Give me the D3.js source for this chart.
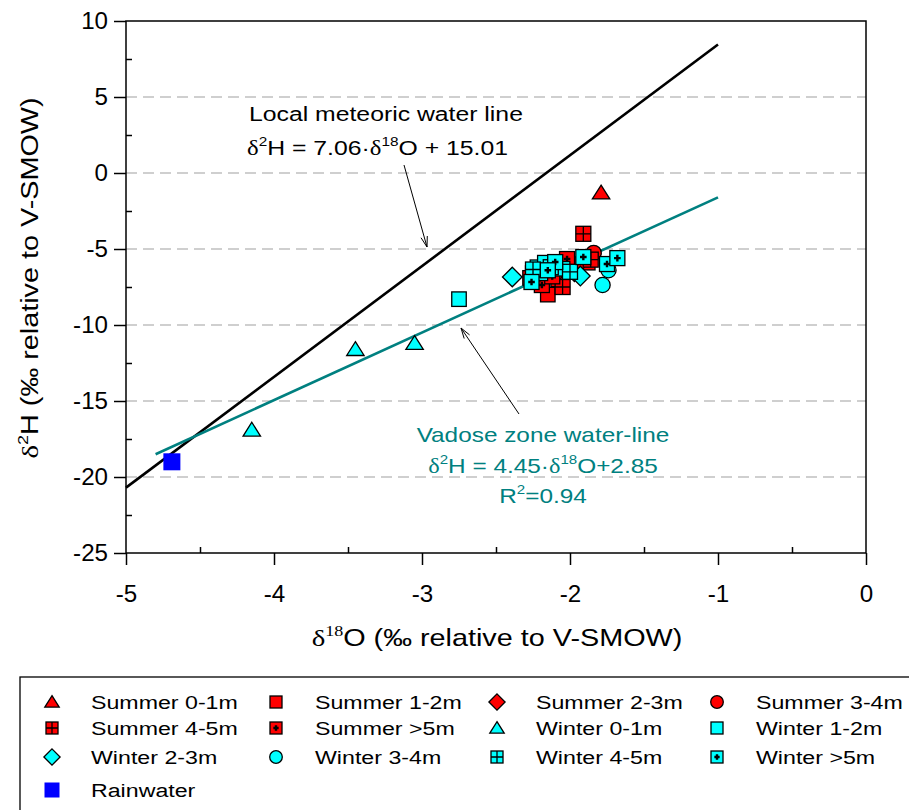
<!DOCTYPE html>
<html>
<head>
<meta charset="utf-8">
<script src="https://cdn.jsdelivr.net/npm/d3@7"></script>
<style>
  body { margin: 0; background: #fff; }
  svg { font-family: "Liberation Sans", Arial, sans-serif; }
</style>
</head>
<body>
<svg id="chart" width="909" height="810"></svg>
<script>
// ---- data ----
const xTicks = [-5, -4, -3, -2, -1, 0];
const xMinor = [-4.5, -3.5, -2.5, -1.5, -0.5];
const yTicks = [-25, -20, -15, -10, -5, 0, 5, 10];
const yMinor = [-22.5, -17.5, -12.5, -7.5, -2.5, 2.5, 7.5];
const gridValues = [-20, -15, -10, -5, 0, 5];

const summer01 = [[-1.79, -1.3]];
const summer12 = [[-2.15, -8.0], [-2.27, -6.9], [-1.99, -6.25], [-1.88, -5.9], [-2.08, -7.0]];
const summer23 = [[-2.05, -6.8], [-1.97, -6.5]];
const summer34 = [[-1.84, -5.26], [-2.1, -6.6], [-1.95, -6.0]];
const summer45 = [[-1.91, -4.0], [-2.05, -7.5], [-2.2, -6.5], [-1.86, -5.7]];
const summer5p = [[-2.19, -7.37], [-2.02, -5.66], [-2.12, -6.8], [-2.25, -6.6]];
const winter01 = [[-3.45, -11.6], [-3.05, -11.2], [-4.15, -16.9]];
const winter12 = [[-2.75, -8.3], [-2.22, -6.2], [-2.17, -5.9], [-2.2, -6.6], [-2.05, -6.3]];
const winter23 = [[-2.39, -6.84], [-1.93, -6.78]];
const winter34 = [[-1.78, -7.37], [-1.74, -6.4]];
const winter45 = [[-2.13, -6.2], [-2.0, -6.5], [-2.25, -6.35]];
const winter5p = [[-2.26, -7.17], [-2.1, -5.86], [-1.91, -5.53], [-1.75, -5.99], [-1.68, -5.6], [-2.15, -6.4]];
const rainwater = [[-4.69, -19.0]];

const lmwl = [[-5, -20.7], [-1, 8.45]];
const vadose = [[-4.8, -18.5], [-1, -1.6]];

// series: name, data, shape, fill
const series = [
  {name: "Summer 0-1m", data: summer01, shape: "tri",     fill: "#ff0000"},
  {name: "Summer 1-2m", data: summer12, shape: "square",  fill: "#ff0000"},
  {name: "Summer 2-3m", data: summer23, shape: "diamond", fill: "#ff0000"},
  {name: "Summer 3-4m", data: summer34, shape: "circle",  fill: "#ff0000"},
  {name: "Summer 4-5m", data: summer45, shape: "grid",    fill: "#ff0000"},
  {name: "Summer >5m",  data: summer5p, shape: "plus",    fill: "#ff0000"},
  {name: "Winter 0-1m", data: winter01, shape: "tri",     fill: "#00ffff"},
  {name: "Winter 1-2m", data: winter12, shape: "square",  fill: "#00ffff"},
  {name: "Winter 2-3m", data: winter23, shape: "diamond", fill: "#00ffff"},
  {name: "Winter 3-4m", data: winter34, shape: "circle",  fill: "#00ffff"},
  {name: "Winter 4-5m", data: winter45, shape: "grid",    fill: "#00ffff"},
  {name: "Winter >5m",  data: winter5p, shape: "plus",    fill: "#00ffff"},
  {name: "Rainwater",   data: rainwater, shape: "rain",   fill: "#0000ff"}
];

const svg = d3.select("#chart");
const x = d3.scaleLinear().domain([-5, 0]).range([126, 866]);
const y = d3.scaleLinear().domain([-25, 10]).range([553, 21]);

// the original text is a bit wider than Arial, stretch it around its anchor
function stretch(sel, sx) {
  sel.each(function () {
    const t = d3.select(this);
    const tx = +t.attr("x") || 0, ty = +t.attr("y") || 0;
    t.attr("transform", `translate(${tx},${ty}) scale(${sx},1) translate(${-tx},${-ty})`);
  });
}

// dashed grid
svg.append("g").selectAll("line").data(gridValues).join("line")
  .attr("x1", x(-5)).attr("x2", x(0))
  .attr("y1", d => y(d)).attr("y2", d => y(d))
  .attr("stroke", "#c0c0c0").attr("stroke-width", 1.3)
  .attr("stroke-dasharray", "11,6");

// frame
svg.append("rect").attr("x", x(-5)).attr("y", y(10))
  .attr("width", x(0) - x(-5)).attr("height", y(-25) - y(10))
  .attr("fill", "none").attr("stroke", "#000").attr("stroke-width", 1.5);

// axes
function styleAxis(g) {
  g.select(".domain").remove();
  g.selectAll("line").attr("stroke", "#000").attr("stroke-width", 1.5);
  g.selectAll("text").attr("font-size", 23).attr("fill", "#000")
    .attr("font-family", "'Liberation Sans', Arial, sans-serif");
}
const fmt = d => d3.format("d")(d).replace("\u2212", "-");
svg.append("g").attr("transform", `translate(0,${y(-25)})`)
  .call(d3.axisBottom(x).tickValues(xTicks).tickSize(12).tickPadding(21).tickFormat(fmt))
  .call(styleAxis)
  .call(g => stretch(g.selectAll("text"), 1.05));
svg.append("g").attr("transform", `translate(0,${y(-25)})`)
  .call(d3.axisBottom(x).tickValues(xMinor).tickSize(-6).tickFormat(""))
  .call(styleAxis);
svg.append("g").attr("transform", `translate(${x(-5)},0)`)
  .call(d3.axisLeft(y).tickValues(yTicks).tickSize(12).tickPadding(6).tickFormat(fmt))
  .call(styleAxis)
  .call(g => stretch(g.selectAll("text"), 1.05));
svg.append("g").attr("transform", `translate(${x(-5)},0)`)
  .call(d3.axisLeft(y).tickValues(yMinor).tickSize(-6).tickFormat(""))
  .call(styleAxis);

// axis titles
const xt = svg.append("text").attr("x", 497).attr("y", 646)
  .attr("text-anchor", "middle").attr("font-size", 24);
xt.append("tspan").attr("font-family", "'Liberation Serif', serif").text("δ");
xt.append("tspan").attr("font-family", "'Liberation Serif', serif")
  .attr("font-size", 15).attr("dy", -10).text("18");
xt.append("tspan").attr("dy", 10).text("O (‰ relative to V-SMOW)");
stretch(xt, 1.2);

const yg = svg.append("g").attr("transform", "translate(38,278) rotate(-90)");
const yt = yg.append("text").attr("x", 0).attr("y", 0)
  .attr("text-anchor", "middle").attr("font-size", 24);
yt.append("tspan").attr("font-family", "'Liberation Serif', serif").text("δ");
yt.append("tspan").attr("font-size", 15).attr("dy", -10).text("2");
yt.append("tspan").attr("dy", 10).text("H (‰ relative to V-SMOW)");
stretch(yt, 1.2);

// regression lines
const line = d3.line().x(d => x(d[0])).y(d => y(d[1]));
svg.append("path").attr("d", line(lmwl)).attr("fill", "none")
  .attr("stroke", "#000").attr("stroke-width", 2.6);
svg.append("path").attr("d", line(vadose)).attr("fill", "none")
  .attr("stroke", "#008080").attr("stroke-width", 2.6);

// markers
function drawMarker(g, shape, fill, s) {
  const h = s / 2;
  const outline = sel => sel.attr("stroke", "#000").attr("stroke-width", 1.3);
  if (shape === "tri") {
    outline(g.append("path").attr("d", `M0,${-h * 1.05}L${h * 1.2},${h * 0.85}L${-h * 1.2},${h * 0.85}Z`).attr("fill", fill));
  } else if (shape === "circle") {
    outline(g.append("circle").attr("r", h * 1.05).attr("fill", fill));
  } else if (shape === "diamond") {
    outline(g.append("path").attr("d", `M0,${-h * 1.35}L${h * 1.35},0L0,${h * 1.35}L${-h * 1.35},0Z`).attr("fill", fill));
  } else if (shape === "rain") {
    g.append("rect").attr("x", -h).attr("y", -h).attr("width", s).attr("height", s).attr("fill", fill);
  } else {
    outline(g.append("rect").attr("x", -h).attr("y", -h).attr("width", s).attr("height", s).attr("fill", fill));
    if (shape === "grid") {
      g.append("path").attr("d", `M0,${-h}V${h}M${-h},0H${h}`).attr("stroke", "#000").attr("stroke-width", 1.3);
    } else if (shape === "plus") {
      const p = s * 0.22;
      g.append("path").attr("d", `M0,${-p}V${p}M${-p},0H${p}`).attr("stroke", "#000").attr("stroke-width", 2.4);
    }
  }
}

series.forEach(sr => {
  const size = sr.shape === "rain" ? 17 : (sr.shape === "plus" || sr.shape === "grid" ? 15 : 14.5);
  svg.append("g").selectAll("g").data(sr.data).join("g")
    .attr("transform", d => `translate(${x(d[0])},${y(d[1])})`)
    .each(function () { drawMarker(d3.select(this), sr.shape, sr.fill, size); });
});

// annotations
function arrow(x1, y1, x2, y2) {
  svg.append("line").attr("x1", x1).attr("y1", y1).attr("x2", x2).attr("y2", y2)
    .attr("stroke", "#000").attr("stroke-width", 1);
  const a = Math.atan2(y2 - y1, x2 - x1), L = 11, w = 0.3;
  const p1 = [x2 - L * Math.cos(a - w), y2 - L * Math.sin(a - w)];
  const p2 = [x2 - L * Math.cos(a + w), y2 - L * Math.sin(a + w)];
  svg.append("path").attr("d", `M${p1}L${x2},${y2}L${p2}`)
    .attr("fill", "none").attr("stroke", "#000").attr("stroke-width", 1);
}
arrow(404, 165, 427, 247);
arrow(519, 414, 461, 328);

const a1 = svg.append("g").attr("font-size", 21).attr("fill", "#000");
a1.append("text").attr("x", 249).attr("y", 121).text("Local meteoric water line");
const eq1 = a1.append("text").attr("x", 247).attr("y", 155);
eq1.append("tspan").attr("font-family", "'Liberation Serif', serif").text("δ");
eq1.append("tspan").attr("font-size", 13).attr("dy", -9).text("2");
eq1.append("tspan").attr("dy", 9).text("H = 7.06·");
eq1.append("tspan").attr("font-family", "'Liberation Serif', serif").text("δ");
eq1.append("tspan").attr("font-size", 13).attr("dy", -9).text("18");
eq1.append("tspan").attr("dy", 9).text("O + 15.01");
stretch(a1.selectAll("text"), 1.18);

const a2 = svg.append("g").attr("font-size", 21).attr("fill", "#008080").attr("text-anchor", "middle");
a2.append("text").attr("x", 543).attr("y", 442).text("Vadose zone water-line");
const eq2 = a2.append("text").attr("x", 543).attr("y", 473);
eq2.append("tspan").attr("font-family", "'Liberation Serif', serif").text("δ");
eq2.append("tspan").attr("font-size", 13).attr("dy", -9).text("2");
eq2.append("tspan").attr("dy", 9).text("H = 4.45·");
eq2.append("tspan").attr("font-family", "'Liberation Serif', serif").text("δ");
eq2.append("tspan").attr("font-size", 13).attr("dy", -9).text("18");
eq2.append("tspan").attr("dy", 9).text("O+2.85");
const r2 = a2.append("text").attr("x", 543).attr("y", 503);
r2.append("tspan").text("R");
r2.append("tspan").attr("font-size", 13).attr("dy", -9).text("2");
r2.append("tspan").attr("dy", 9).text("=0.94");
stretch(a2.selectAll("text"), 1.16);

// legend
svg.append("rect").attr("x", 20).attr("y", 677).attr("width", 900).attr("height", 150)
  .attr("fill", "none").attr("stroke", "#000").attr("stroke-width", 1.3);
const colX = [52, 276, 497, 717];
const rowY = [702, 728, 757, 790];
const lg = svg.append("g").selectAll("g").data(series).join("g")
  .attr("transform", (d, i) => `translate(${colX[i % 4]},${rowY[Math.floor(i / 4)]})`);
lg.each(function (d) {
  const s = d.shape === "rain" ? 15 : 12;
  drawMarker(d3.select(this), d.shape, d.fill, s);
});
lg.append("text").attr("x", 39).attr("y", 7).attr("font-size", 19).text(d => d.name)
  .call(sel => stretch(sel, 1.22));
</script>
</body>
</html>
